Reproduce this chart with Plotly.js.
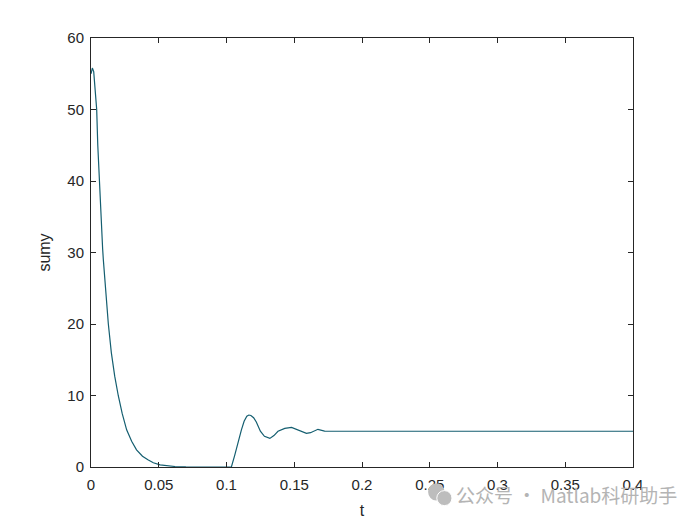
<!DOCTYPE html>
<html>
<head>
<meta charset="utf-8">
<script src="https://cdn.plot.ly/plotly-3.0.1.min.js"></script>
<style>html,body{margin:0;padding:0;background:#fff;}#chart{width:700px;height:525px;}</style>
</head>
<body>
<div id="chart"></div>
<script>
const tValues = [0, 0.001, 0.002, 0.003, 0.0042, 0.005, 0.0061, 0.0075, 0.0086, 0.0091, 0.0105, 0.0128, 0.015, 0.0175, 0.0201, 0.023, 0.0263, 0.03, 0.0336, 0.038, 0.042, 0.046, 0.051, 0.056, 0.062, 0.07, 0.08, 0.09, 0.1, 0.1036, 0.106, 0.109, 0.111, 0.113, 0.115, 0.1165, 0.118, 0.120, 0.122, 0.125, 0.128, 0.132, 0.135, 0.138, 0.143, 0.148, 0.1527, 0.156, 0.159, 0.162, 0.165, 0.1675, 0.1724, 0.18, 0.2, 0.3, 0.4];
const sumyValues = [55, 55.8, 55.3, 52.5, 50, 45, 40, 34.5, 30.5, 29, 25, 20, 16, 12.7, 10, 7.5, 5.2, 3.6, 2.4, 1.5, 1.0, 0.6, 0.3, 0.15, 0.07, 0.03, 0.01, 0.0, 0.0, 0.0, 1.6, 4.0, 5.2, 6.4, 7.1, 7.27, 7.2, 6.9, 6.3, 5.0, 4.3, 4.0, 4.4, 5.0, 5.4, 5.55, 5.17, 4.85, 4.7, 4.8, 5.1, 5.27, 5.03, 5.0, 5.0, 5.0, 5.0];
const xTicks = [0, 0.05, 0.1, 0.15, 0.2, 0.25, 0.3, 0.35, 0.4];
const xTickLabels = ['0', '0.05', '0.1', '0.15', '0.2', '0.25', '0.3', '0.35', '0.4'];
const yTicks = [0, 10, 20, 30, 40, 50, 60];
const watermark = '公众号 · Matlab科研助手';

const axisCommon = {
  showline: true, linecolor: '#262626', linewidth: 1, mirror: 'ticks',
  ticks: 'inside', ticklen: 5, tickcolor: '#262626', showgrid: false, zeroline: false,
  tickfont: {family: 'Liberation Sans, Arial, sans-serif', size: 15, color: '#262626'}
};

Plotly.newPlot('chart', [{
  x: tValues, y: sumyValues, type: 'scatter', mode: 'lines',
  line: {color: '#145e70', width: 1.2}, hoverinfo: 'skip'
}], {
  width: 700, height: 525,
  paper_bgcolor: '#ffffff', plot_bgcolor: '#ffffff',
  margin: {l: 91, r: 67, t: 38, b: 58},
  showlegend: false,
  xaxis: Object.assign({}, axisCommon, {
    range: [0, 0.4], tickvals: xTicks, ticktext: xTickLabels, ticklabelstandoff: 4,
    title: {text: 't', standoff: 12, font: {family: 'Liberation Sans, Arial, sans-serif', size: 16, color: '#262626'}}
  }),
  yaxis: Object.assign({}, axisCommon, {
    range: [0, 60], tickvals: yTicks, ticklabelstandoff: 3,
    title: {text: 'sumy', standoff: 12, font: {family: 'Liberation Sans, Arial, sans-serif', size: 16, color: '#262626'}}
  }),
  shapes: [
    {type: 'circle', xref: 'paper', yref: 'paper', x0: 0.622, x1: 0.652, y0: -0.078, y1: -0.038, fillcolor: '#bdbdbd', line: {width: 0}},
    {type: 'circle', xref: 'paper', yref: 'paper', x0: 0.638, x1: 0.666, y0: -0.090, y1: -0.055, fillcolor: '#bdbdbd', line: {color: '#ffffff', width: 1}}
  ],
  annotations: [{
    text: watermark, xref: 'paper', yref: 'paper', x: 0.670, y: -0.065,
    xanchor: 'left', yanchor: 'middle', showarrow: false,
    font: {family: 'Noto Sans CJK SC, sans-serif', size: 19, color: '#b4b4b4'}
  }]
}, {displayModeBar: false, staticPlot: true});
</script>
</body>
</html>
